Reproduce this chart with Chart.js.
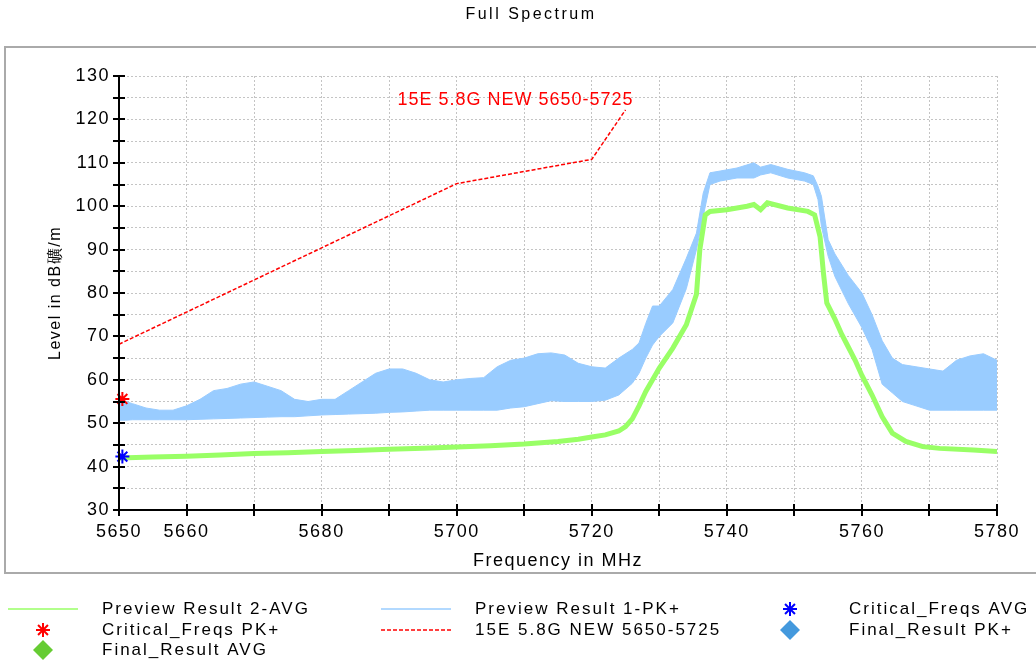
<!DOCTYPE html>
<html>
<head>
<meta charset="utf-8">
<script src="https://cdn.jsdelivr.net/npm/chart.js@4.4.0/dist/chart.umd.min.js"></script>
<style>
  html, body { margin: 0; padding: 0; background: #fff; }
  #wrap { width: 1036px; height: 664px; }
</style>
</head>
<body>
<div id="wrap"><canvas id="spectrum" width="1036" height="664"></canvas></div>
<script>
// Full Spectrum - EMC scan, 5650..5780 MHz

// peak trace (Preview Result 1-PK+), drawn as a band between its envelopes
const pkFreq = [5650, 5651, 5652, 5654, 5656, 5658, 5660, 5662, 5664, 5666, 5668, 5670, 5672, 5674, 5676, 5678,
    5680, 5682, 5684, 5686, 5688, 5690, 5692, 5694, 5696, 5698, 5700, 5702, 5704, 5706, 5708, 5710, 5712, 5714,
    5716, 5718, 5720, 5722, 5724, 5726, 5727, 5728, 5729, 5730, 5732, 5734, 5735.5, 5736.5, 5737.5, 5739, 5741.5,
    5744, 5745, 5746.5, 5749, 5751.5, 5752.8, 5753.5, 5754, 5755, 5756, 5758, 5760, 5761.5, 5763, 5764.5, 5766,
    5768, 5770, 5772, 5774, 5776, 5778, 5780];
const pkUpper = [56.5, 55, 54.5, 53.5, 53, 53, 54, 55.5, 57.5, 58, 59, 59.5, 58.5, 57.5, 55.5, 55,
    55.5, 55.5, 57.5, 59.5, 61.5, 62.5, 62.5, 61.5, 60, 59.5, 60, 60.3, 60.5, 63, 64.5, 65, 66, 66.2,
    65.7, 63.8, 63, 62.7, 65, 67, 68.5, 73, 77, 77, 80.8, 88, 93.8, 103, 107.7, 108.1, 108.8,
    110, 109, 109.6, 108.5, 107.7, 107, 104.6, 102.3, 92.3, 89, 84, 80, 75, 69, 65, 63.5,
    63, 62.5, 62, 64.5, 65.5, 66, 64.5];
const pkLower = [50.7, 50.7, 50.8, 50.8, 50.8, 50.8, 50.8, 50.9, 51, 51.1, 51.2, 51.3, 51.4, 51.5, 51.5, 51.7,
    51.9, 52, 52.1, 52.2, 52.3, 52.5, 52.6, 52.8, 53, 53, 53, 53, 53, 53, 53.5, 53.8, 54.5, 55.2,
    55, 55, 55, 55.3, 56.5, 59.2, 61.5, 65, 68, 70, 73.1, 81, 90, 97.7, 105, 105.8, 106.5,
    106.5, 107.2, 107.7, 106.5, 105.8, 105, 101.5, 95.4, 88.5, 83.8, 77.5, 72, 67, 59, 57, 55,
    54, 53, 53, 53, 53, 53, 53];

// average trace (Preview Result 2-AVG)
const avgFreq = [5650, 5655, 5660, 5665, 5670, 5675, 5680, 5685, 5690, 5695, 5700, 5705, 5710, 5715, 5718, 5720,
    5722, 5724, 5725, 5726, 5727, 5728, 5730, 5732, 5734, 5735.5, 5736, 5736.8, 5737.5, 5740, 5743, 5744, 5745,
    5746, 5749, 5752, 5753, 5753.8, 5754.3, 5754.8, 5756, 5757, 5758, 5759, 5760, 5761.5, 5763, 5764.5, 5766.5,
    5769, 5771.5, 5776.5, 5780];
const avgLevel = [42, 42.2, 42.4, 42.7, 43, 43.2, 43.5, 43.7, 44, 44.2, 44.5, 44.8, 45.2, 45.8, 46.3, 46.8,
    47.3, 48.2, 49.2, 51, 54, 57.3, 62.7, 67.3, 72.7, 79.7, 90, 98, 98.8, 99.2, 100, 100.4, 99.2,
    100.8, 99.6, 98.8, 98, 93, 84.6, 77.7, 74, 70.5, 67.5, 64.5, 61, 56.5, 51.5, 47.7, 45.8,
    44.6, 44.2, 43.8, 43.5];

// limit line 15E 5.8G NEW 5650-5725
const limitFreq = [5650, 5700, 5720, 5725];
const limitLevel = [68.2, 105.2, 110.8, 122.2];

// critical frequencies
const critPkFreq = [5650.5];
const critPkLevel = [55.6];
const critAvgFreq = [5650.5];
const critAvgLevel = [42.3];

// axes
const xMin = 5650, xMax = 5780, xStep = 10;
const yMin = 30, yMax = 130, yStep = 5;
const xLabelled = [5650, 5660, 5680, 5700, 5720, 5740, 5760, 5780];

const pkColor = '#99ccff';
const avgColor = '#99ff66';
const limitColor = '#ff0000';
const FONT = '"Liberation Sans", Arial, sans-serif';

Chart.defaults.font.family = FONT;
Chart.defaults.color = '#000';

const toPoints = (xs, ys) => xs.map((x, i) => ({ x: x, y: ys[i] }));

const legendItems = [
    { col: 0, row: 0, text: 'Preview Result 2-AVG', kind: 'line', color: avgColor },
    { col: 1, row: 0, text: 'Preview Result 1-PK+', kind: 'line', color: pkColor },
    { col: 2, row: 0, text: 'Critical_Freqs AVG', kind: 'star', color: '#0000ff' },
    { col: 0, row: 1, text: 'Critical_Freqs PK+', kind: 'star', color: '#ff0000' },
    { col: 1, row: 1, text: '15E 5.8G NEW 5650-5725', kind: 'dash', color: limitColor },
    { col: 2, row: 1, text: 'Final_Result PK+', kind: 'diamond', color: '#4499dd' },
    { col: 0, row: 2, text: 'Final_Result AVG', kind: 'diamond', color: '#66cc33' }
];

// frame, title and the text spacing used by the scan software
const framePlugin = {
    id: 'framePlugin',
    beforeDraw(chart) {
        const ctx = chart.ctx;
        ctx.save();
        ctx.fillStyle = '#fff';
        ctx.fillRect(0, 0, chart.width, chart.height);
        ctx.strokeStyle = '#aaaaaa';
        ctx.lineWidth = 2;
        ctx.strokeRect(5, 47, chart.width + 20, 526);
        ctx.fillStyle = '#000';
        ctx.font = '16px ' + FONT;
        ctx.letterSpacing = '2.5px';
        ctx.textAlign = 'center';
        ctx.textBaseline = 'middle';
        ctx.fillText('Full Spectrum', 531, 15);
        ctx.restore();
        ctx.letterSpacing = '1.5px';
    },
    afterDatasetsDraw(chart) {
        const { ctx, chartArea: a, scales: { x, y } } = chart;
        ctx.save();
        // solid axes with ticks crossing the axis line
        ctx.strokeStyle = '#000';
        ctx.lineWidth = 2;
        ctx.beginPath();
        ctx.moveTo(a.left, a.top);
        ctx.lineTo(a.left, a.bottom);
        ctx.lineTo(a.right, a.bottom);
        y.ticks.forEach(t => {
            const py = Math.round(y.getPixelForValue(t.value));
            ctx.moveTo(a.left - 6, py);
            ctx.lineTo(a.left + 6, py);
        });
        x.ticks.forEach(t => {
            const px = Math.round(x.getPixelForValue(t.value));
            ctx.moveTo(px, a.bottom - 6);
            ctx.lineTo(px, a.bottom + 6);
        });
        ctx.stroke();

        // limit line label, next to the end of the line
        const n = limitFreq.length - 1;
        const lx = x.getPixelForValue(limitFreq[n]);
        const ly = y.getPixelForValue(limitLevel[n]);
        ctx.fillStyle = limitColor;
        ctx.font = '18px ' + FONT;
        ctx.letterSpacing = '1px';
        ctx.textAlign = 'right';
        ctx.textBaseline = 'middle';
        ctx.fillText('15E 5.8G NEW 5650-5725', lx + 8, ly - 10);
        ctx.restore();
    },
    afterDraw(chart) {
        const ctx = chart.ctx;
        const symX = [43, 416, 790];
        const textX = [102, 475, 849];
        const rowY = [609, 630, 650];
        ctx.save();
        ctx.font = '17px ' + FONT;
        ctx.letterSpacing = '2px';
        ctx.textAlign = 'left';
        ctx.textBaseline = 'middle';
        legendItems.forEach(it => {
            const sx = symX[it.col], sy = rowY[it.row];
            ctx.save();
            ctx.strokeStyle = it.color;
            ctx.fillStyle = it.color;
            if (it.kind === 'line' || it.kind === 'dash') {
                ctx.lineWidth = 1.5;
                ctx.setLineDash(it.kind === 'dash' ? [4, 2] : []);
                ctx.beginPath();
                ctx.moveTo(sx - 35, sy);
                ctx.lineTo(sx + 35, sy);
                ctx.stroke();
            } else if (it.kind === 'star') {
                Chart.helpers.drawPoint(ctx, { pointStyle: 'star', radius: 7, rotation: 0, borderWidth: 2 }, sx, sy);
            } else {
                Chart.helpers.drawPoint(ctx, { pointStyle: 'rectRot', radius: 10, rotation: 0, borderWidth: 0 }, sx, sy);
            }
            ctx.restore();
            ctx.fillStyle = '#000';
            ctx.fillText(it.text, textX[it.col], sy);
        });
        ctx.restore();
    }
};

new Chart(document.getElementById('spectrum'), {
    type: 'scatter',
    data: {
        datasets: [
            {
                label: 'Critical_Freqs PK+',
                data: toPoints(critPkFreq, critPkLevel),
                pointStyle: 'star', pointRadius: 7, borderWidth: 2,
                borderColor: '#ff0000', backgroundColor: '#ff0000',
                clip: false, order: 0
            },
            {
                label: 'Critical_Freqs AVG',
                data: toPoints(critAvgFreq, critAvgLevel),
                pointStyle: 'star', pointRadius: 7, borderWidth: 2,
                borderColor: '#0000ff', backgroundColor: '#0000ff',
                clip: false, order: 0
            },
            {
                label: '15E 5.8G NEW 5650-5725',
                data: toPoints(limitFreq, limitLevel),
                showLine: true, pointRadius: 0,
                borderColor: limitColor, borderWidth: 1.5, borderDash: [4, 2],
                order: 1
            },
            {
                label: 'Preview Result 2-AVG',
                data: toPoints(avgFreq, avgLevel),
                showLine: true, pointRadius: 0,
                borderColor: avgColor, borderWidth: 5,
                order: 2
            },
            {
                label: 'Preview Result 1-PK+',
                data: toPoints(pkFreq, pkUpper),
                showLine: true, pointRadius: 0,
                borderColor: pkColor, backgroundColor: pkColor, borderWidth: 1,
                fill: '+1', order: 3
            },
            {
                label: 'Preview Result 1-PK+ (lower)',
                data: toPoints(pkFreq, pkLower),
                showLine: true, pointRadius: 0,
                borderColor: pkColor, borderWidth: 1,
                fill: false, order: 4
            },
            { label: 'Final_Result PK+', data: [], pointStyle: 'rectRot', backgroundColor: '#4499dd' },
            { label: 'Final_Result AVG', data: [], pointStyle: 'rectRot', backgroundColor: '#66cc33' }
        ]
    },
    options: {
        responsive: false,
        devicePixelRatio: 1,
        animation: false,
        events: [],
        layout: { padding: { top: 76, right: 39, bottom: 0, left: 0 } },
        plugins: {
            legend: { display: false },
            tooltip: { enabled: false },
            title: { display: false }
        },
        scales: {
            x: {
                type: 'linear',
                min: xMin, max: xMax,
                afterFit: s => { s.height = 154; },
                ticks: {
                    stepSize: xStep,
                    autoSkip: false,
                    maxRotation: 0,
                    padding: 11,
                    font: { size: 18 },
                    callback: v => xLabelled.includes(v) ? String(v) : ''
                },
                grid: { color: '#c4c4c4', lineWidth: 1, drawTicks: false },
                border: { display: false, dash: [2, 2] },
                title: {
                    display: true,
                    text: 'Frequency in MHz',
                    font: { size: 18 },
                    padding: { top: 0, bottom: 92 }
                }
            },
            y: {
                min: yMin, max: yMax,
                afterFit: s => { s.width = 119; },
                ticks: {
                    stepSize: yStep,
                    autoSkip: false,
                    padding: 9,
                    font: { size: 18 },
                    callback: v => v % 10 === 0 ? String(v) : ''
                },
                grid: { color: '#c4c4c4', lineWidth: 1, drawTicks: false },
                border: { display: false, dash: [2, 2] },
                title: {
                    display: true,
                    text: 'Level in dB礦/m',
                    font: { size: 16 },
                    padding: { top: 46, bottom: 0 }
                }
            }
        }
    },
    plugins: [framePlugin]
});
</script>
</body>
</html>
